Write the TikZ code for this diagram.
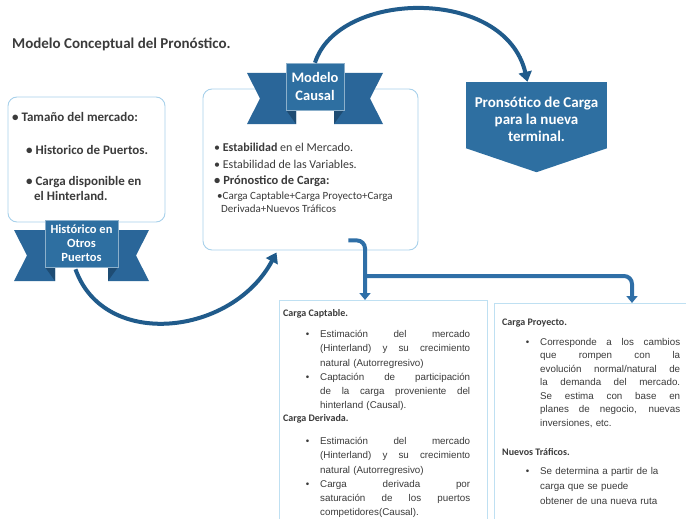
\documentclass[tikz,border=0pt]{standalone}
\usepackage{fontspec}
\setmainfont{Carlito}
\newfontfamily\arialfont{Liberation Sans}
\usetikzlibrary{positioning,calc,arrows.meta}
\definecolor{RibBlue}{HTML}{2E6FA1}
\definecolor{RibWing}{HTML}{2A6699}
\definecolor{RibFold}{HTML}{1E4C73}
\definecolor{ArcBlue}{HTML}{205B8B}
\definecolor{FlowBlue}{HTML}{2F6FA7}
\definecolor{CardLine}{HTML}{A8D1EB}
\definecolor{PanelLine}{HTML}{BFE0F2}
\definecolor{InkGray}{HTML}{3B3B3B}
% wings of a ribbon banner: centre, half width, half height, wing length
\newcommand{\ribbonwings}[4]{%
  \fill[RibWing] ($(#1)+(-#2+10,-#3+10)$) -- ($(#1)+(-#2-#4,-#3+10)$) -- ($(#1)+(-#2-#4+13,12)$) -- ($(#1)+(-#2-#4,#3+14)$) -- ($(#1)+(-#2+10,#3+14)$) -- cycle;
  \fill[RibWing] ($(#1)+(#2-10,-#3+10)$) -- ($(#1)+(#2+#4,-#3+10)$) -- ($(#1)+(#2+#4-13,12)$) -- ($(#1)+(#2+#4,#3+14)$) -- ($(#1)+(#2-10,#3+14)$) -- cycle;
  \fill[RibFold] ($(#1)+(-#2,#3)$) -- ($(#1)+(-#2+10,#3+14)$) -- ($(#1)+(-#2+10,#3)$) -- cycle;
  \fill[RibFold] ($(#1)+(#2,#3)$) -- ($(#1)+(#2-10,#3+14)$) -- ($(#1)+(#2-10,#3)$) -- cycle;}
\newlength{\outerskip}
\newcommand{\nl}{\hfil\break}
\newcommand{\jline}[1]{\hbox to\dimexpr\hsize-\leftskip\relax{\spaceskip=.28em plus 1fil\relax #1}}
\newcommand{\pitem}[1]{\baselineskip\outerskip\leftskip=20pt\noindent\llap{\textbullet\hskip 11pt}#1\par}

\begin{document}
\begin{tikzpicture}[x=1pt,y=-1pt,>=Latex]
\tikzset{card/.style={draw=CardLine,line width=0.9pt,fill=white,rounded corners=9pt},
         panel/.style={draw=PanelLine,line width=0.9pt,fill=white},
         ribbon/.style={fill=RibBlue,draw=RibBlue!55!white,line width=0.5pt,text=white,font=\bfseries\fontsize{12.5}{14}\selectfont,align=center,inner sep=0pt},
         cardtext/.style={anchor=west,inner sep=0pt,text=InkGray},
         paneltext/.style={anchor=north west,inner sep=0pt,text=InkGray,text width=170pt,font=\arialfont\fontsize{9.8}{14.3}\selectfont\setlength{\outerskip}{14.3pt}},
         paneltitle/.style={anchor=west,inner sep=0pt,text=InkGray,font=\bfseries\fontsize{10}{12}\selectfont},
         arc/.style={draw=ArcBlue,line width=4pt,-{Triangle[width=13pt,length=10pt]}},
         flow/.style={draw=FlowBlue,line width=4pt,rounded corners=8pt,-{Triangle[width=11pt,length=7pt]}}}
\useasboundingbox (0,0) rectangle (686,519);
\clip (0,0) rectangle (686,519);
\node[anchor=west,inner sep=0pt,text=InkGray,font=\bfseries\fontsize{15}{17}\selectfont] (title) at (12,44) {Modelo Conceptual del Pronóstico.};
% left card and its banner
\node[card,minimum width=157pt,minimum height=125pt] (market) at (86.5,159.5) {};
\node[cardtext,font=\bfseries\fontsize{13}{15}\selectfont] (size) at (12,117) {\textbullet\ Tamaño del mercado:};
\node[cardtext,font=\bfseries\fontsize{13}{15}\selectfont] (ports) at (26,150) {\textbullet\ Historico de Puertos.};
\node[cardtext,font=\bfseries\fontsize{13}{15}\selectfont,align=left] (hinter) at (26,188.5) {\textbullet\ Carga disponible en\\\hspace*{8pt}el Hinterland.};
\coordinate (histc) at (81.5,243.5);
\ribbonwings{histc}{36.5}{23.5}{31}
\node[ribbon,minimum width=73pt,minimum height=47pt] (historic) at (histc) {Histórico en\\Otros\\Puertos};
% middle card and its banner
\node[card,minimum width=215pt,minimum height=161pt] (causalbox) at (310.5,169.5) {};
\coordinate (causc) at (315,86.5);
\ribbonwings{causc}{29}{23.5}{39}
\node[ribbon,minimum width=58pt,minimum height=47pt,font=\bfseries\fontsize{14.5}{18}\selectfont] (causal) at (causc) {Modelo\\Causal};
\node[cardtext,font=\fontsize{12}{14}\selectfont] (stable) at (214,147) {\textbullet\ \textbf{Estabilidad} en el Mercado.};
\node[cardtext,font=\fontsize{12}{14}\selectfont] (vars) at (214,164) {\textbullet\ Estabilidad de las Variables.};
\node[cardtext,font=\bfseries\fontsize{12.5}{14}\selectfont] (total) at (214,181) {\textbullet\ Prónostico de Carga:};
\node[cardtext,font=\fontsize{11}{12.5}\selectfont,align=left] (sum) at (217,202) {\textbullet Carga Captable+Carga Proyecto+Carga\\\hspace*{4pt}Derivada+Nuevos Tráficos};
% target
\node[fill=RibBlue,minimum width=141pt,minimum height=66pt,inner sep=0pt] (forecast) at (536.5,115) {};
\fill[RibBlue] (forecast.south west) -- (forecast.south east) -- ($(forecast.south)+(0,24)$) -- cycle;
\node[text=white,font=\bfseries\fontsize{15}{17}\selectfont,align=center] (forecasttext) at (536.5,119) {Pronsótico de Carga\\para la nueva\\terminal.};
% lower panels
\node[panel,minimum width=208pt,minimum height=240pt,anchor=north west] (captable) at (279,300) {};
\node[panel,minimum width=200pt,minimum height=240pt,anchor=north west] (project) at (494,303) {};
\node[paneltitle] (captabletitle) at (283,314) {Carga Captable.};
\node[paneltext] (captablepts) at (300,330) {%
  \pitem{\jline{Estimación del mercado}\nl\jline{(Hinterland) y su crecimiento}\nl natural (Autorregresivo)}%
  \pitem{\jline{Captación de participación}\nl\jline{de la carga proveniente del}\nl hinterland (Causal).}};
\node[paneltitle] (derivedtitle) at (283,419) {Carga Derivada.};
\node[paneltext] (derivedpts) at (300,437) {%
  \pitem{\jline{Estimación del mercado}\nl\jline{(Hinterland) y su crecimiento}\nl natural (Autorregresivo)}%
  \pitem{\jline{Carga derivada por}\nl\jline{saturación de los puertos}\nl competidores(Causal).}};
\node[paneltitle] (projecttitle) at (502,323) {Carga Proyecto.};
\node[paneltext,text width=160pt,font=\arialfont\fontsize{9.8}{13.5}\selectfont\setlength{\outerskip}{13.5pt}] (projectpts) at (520,338) {%
  \pitem{\jline{Corresponde a los cambios}\nl\jline{que rompen con la}\nl\jline{evolución normal/natural de}\nl\jline{la demanda del mercado.}\nl\jline{Se estima con base en}\nl\jline{planes de negocio, nuevas}\nl inversiones, etc.}};
\node[paneltitle] (traffictitle) at (502,452) {Nuevos Tráficos.};
\node[paneltext,text width=160pt,font=\arialfont\fontsize{9.8}{15}\selectfont\setlength{\outerskip}{15pt}] (trafficpts) at (520,467) {%
  \pitem{Se determina a partir de la\nl carga que se puede\nl obtener de una nueva ruta}};
% connectors
\draw[arc] (causal.north) .. controls (338,-10) and (505,-14) .. ($(forecast.north)+(-9,0)$);
\draw[arc] ($(historic.south)+(-6,2)$) .. controls (104,350) and (232,336) .. ($(causalbox.south)+(-34,2)$);
\coordinate (fork) at ($(causalbox.south east)+(-70,-10)$);
\draw[flow] (fork) -| ($(captable.north west)+(86,0)$);
\draw[flow] ($(captable.north west)+(86,-24)$) -| ($(project.north west)+(138,0)$);
\end{tikzpicture}
\end{document}
